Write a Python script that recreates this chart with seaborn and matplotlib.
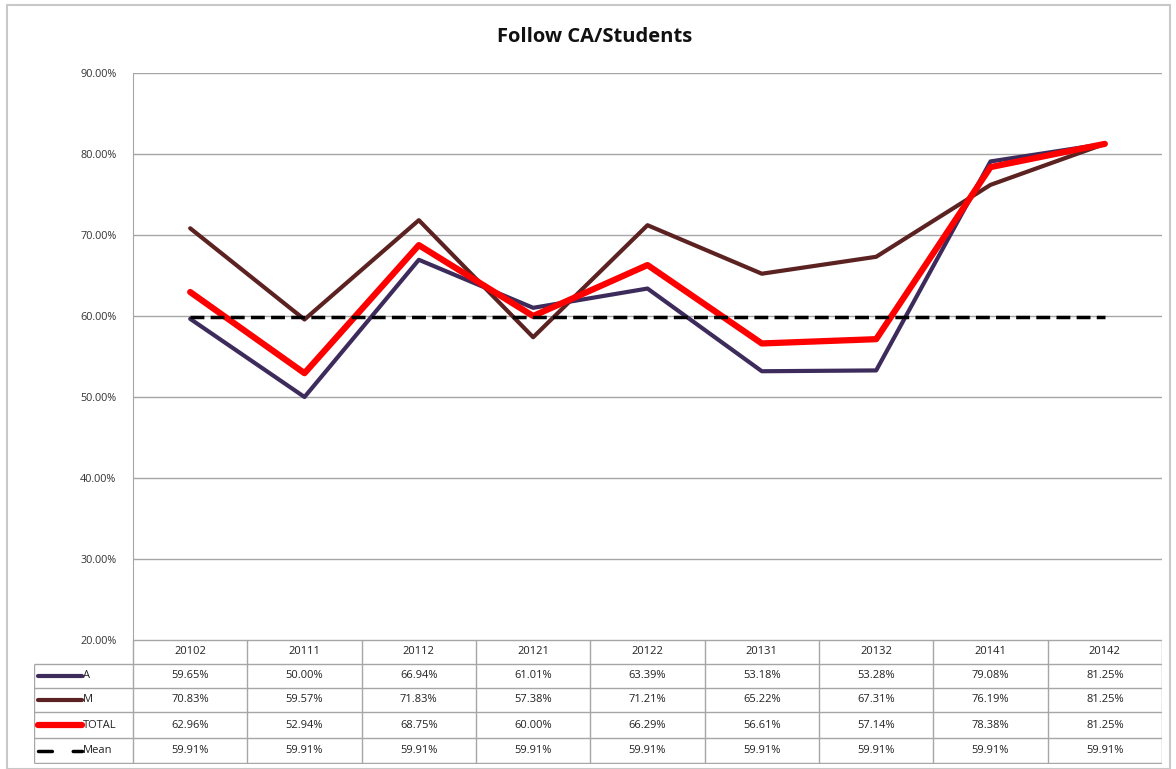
import numpy as np
import pandas as pd
import matplotlib
matplotlib.use("Agg")
import matplotlib.pyplot as plt
import seaborn as sns
from matplotlib.patches import Rectangle

sns.set_style("white")
plt.rcParams['font.family'] = ['Open Sans', 'DejaVu Sans']

periods = ["20102", "20111", "20112", "20121", "20122", "20131", "20132", "20141", "20142"]
a_vals = [59.65, 50.00, 66.94, 61.01, 63.39, 53.18, 53.28, 79.08, 81.25]
m_vals = [70.83, 59.57, 71.83, 57.38, 71.21, 65.22, 67.31, 76.19, 81.25]
total_vals = [62.96, 52.94, 68.75, 60.00, 66.29, 56.61, 57.14, 78.38, 81.25]
mean_vals = [59.91] * 9
series_names = ["A", "M", "TOTAL", "Mean"]
y_ticks = [20, 30, 40, 50, 60, 70, 80, 90]

colors = {"A": "#3d2b5c", "M": "#5c2222", "TOTAL": "#ff0000", "Mean": "#000000"}
widths = {"A": 3.0, "M": 3.0, "TOTAL": 4.5, "Mean": 2.5}

W, H = 1176, 769
fig = plt.figure(figsize=(W / 100, H / 100), dpi=100)

def px_axes(x0, y0, x1, y1):
    return fig.add_axes([x0 / W, 1 - y1 / H, (x1 - x0) / W, (y1 - y0) / H])

# outer frame
fig.patches.append(Rectangle((7 / W, 0), (1163) / W, 1 - 5 / H, transform=fig.transFigure,
                             fill=False, edgecolor="#c8c8c8", linewidth=1.5))

x_left, x_right = 133, 1162
ax = px_axes(x_left, 73, x_right, 640)

df = pd.DataFrame({"pos": list(range(len(periods))) * 4,
                   "value": a_vals + m_vals + total_vals + mean_vals,
                   "series": sum([[s] * len(periods) for s in series_names], [])})

for s in ["M", "A", "TOTAL"]:
    sns.lineplot(data=df[df.series == s], x="pos", y="value", ax=ax, color=colors[s],
                 linewidth=widths[s], legend=False)
sns.lineplot(data=df[df.series == "Mean"], x="pos", y="value", ax=ax, color="black",
             linewidth=widths["Mean"], linestyle=(0, (4, 1.8)), legend=False)

ax.set_xlim(-0.5, len(periods) - 0.5)
ax.set_ylim(20, 90)
ax.set_yticks(y_ticks)
ax.set_yticklabels([f"{v:.2f}%" for v in y_ticks], fontsize=7.8, color="#333333")
ax.tick_params(axis="y", length=0, pad=12)
ax.set_xticks([])
ax.set_xlabel("")
ax.set_ylabel("")
ax.yaxis.grid(True, color="#a6a6a6", linewidth=1)
for side in ["top", "right", "bottom"]:
    ax.spines[side].set_visible(False)
ax.spines["left"].set_color("#a6a6a6")

fig.text(595 / W, 1 - 37 / H, "Follow CA/Students", ha="center", va="center",
         fontsize=14.5, fontweight="bold", color="#111111")

# data table under the plot
unit = (x_right - x_left) / len(periods)
leg_w = (x_left - 34) / unit
tab = px_axes(34, 640, x_right, 764)
tab.set_xlim(-0.5 - leg_w, len(periods) - 0.5)
tab.set_ylim(764, 640)
tab.axis("off")

row_edges = [640, 664, 688, 712, 738, 763]
grid_c = "#a6a6a6"
tab.hlines(row_edges[1:], -0.5 - leg_w, len(periods) - 0.5, color=grid_c, lw=1)
tab.hlines(row_edges[0], -0.5, len(periods) - 0.5, color=grid_c, lw=1)
for i in range(len(periods) + 1):
    tab.vlines(i - 0.5, row_edges[0], row_edges[-1], color=grid_c, lw=1)
tab.vlines(-0.5 - leg_w, row_edges[1], row_edges[-1], color=grid_c, lw=1)

for i, p in enumerate(periods):
    tab.text(i, (row_edges[0] + row_edges[1]) / 2, p, ha="center", va="center",
             fontsize=8, color="#222222")

rows = [a_vals, m_vals, total_vals, mean_vals]
for r, (name, vals) in enumerate(zip(series_names, rows)):
    yc = (row_edges[r + 1] + row_edges[r + 2]) / 2
    for i, v in enumerate(vals):
        tab.text(i, yc, f"{v:.2f}%", ha="center", va="center", fontsize=8, color="#222222")
    x0 = -0.5 - leg_w + 4 / unit
    x1 = -0.5 - leg_w + 48 / unit
    if name == "Mean":
        tab.plot([x0, x1], [yc, yc], color="black", lw=2.5, linestyle=(0, (4, 6)),
                 solid_capstyle="round", dash_capstyle="round")
    else:
        tab.plot([x0, x1], [yc, yc], color=colors[name], lw=widths[name],
                 solid_capstyle="round")
    tab.text(x1 + 1 / unit, yc, name, ha="left", va="center", fontsize=8, color="#222222")

fig.savefig("out.png", dpi=100)
